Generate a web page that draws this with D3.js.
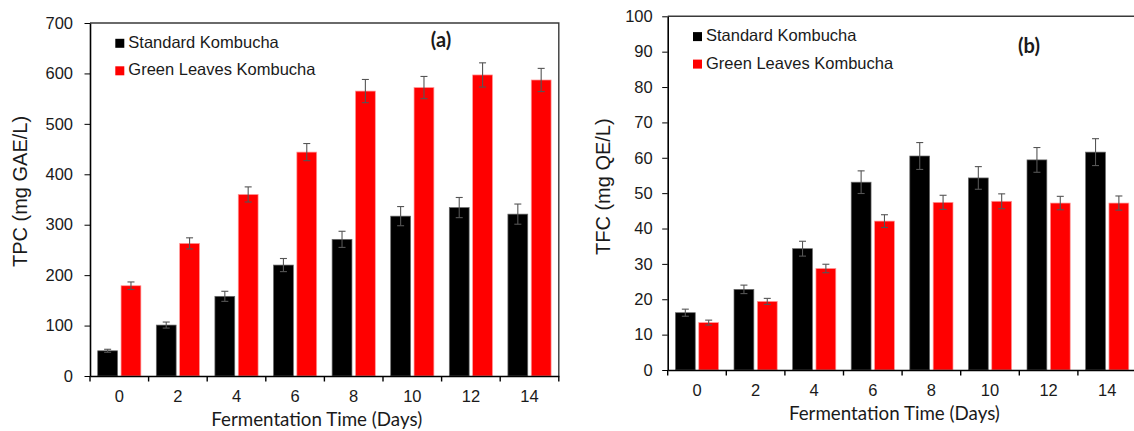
<!DOCTYPE html>
<html>
<head>
<meta charset="utf-8">
<script src="https://cdn.jsdelivr.net/npm/d3@7"></script>
<style>
  body { margin: 0; background: #fff; }
  svg { display: block; }
  .tick text { font-family: "Liberation Sans", Arial, sans-serif; fill: #1a1a1a; }
</style>
</head>
<body>
<div id="chart"></div>
<script>
// categories and series
const days = ["0", "2", "4", "6", "8", "10", "12", "14"];
const seriesNames = ["Standard Kombucha", "Green Leaves Kombucha"];
const seriesColors = ["#000000", "#ff0000"];

// panel (a) - total phenolic content
const tpcStandard = [50, 101, 158, 220, 271, 317, 334, 321];
const tpcStandardErr = [3, 6, 10, 13, 16, 19, 20, 20];
const tpcGreen = [179, 263, 360, 444, 565, 572, 597, 587];
const tpcGreenErr = [7.5, 11, 15, 17, 23, 22, 24, 23];
const tpcTicks = [0, 100, 200, 300, 400, 500, 600, 700];

// panel (b) - total flavonoid content
const tfcStandard = [16.2, 22.8, 34.3, 53.1, 60.5, 54.3, 59.4, 61.6];
const tfcStandardErr = [1.0, 1.2, 2.1, 3.2, 3.8, 3.2, 3.5, 3.8];
const tfcGreen = [13.4, 19.4, 28.7, 42.1, 47.4, 47.7, 47.2, 47.2];
const tfcGreenErr = [0.7, 0.85, 1.2, 1.8, 2.0, 2.1, 1.9, 2.0];
const tfcTicks = [0, 10, 20, 30, 40, 50, 60, 70, 80, 90, 100];

const width = 1134, height = 431;

const svg = d3.select("#chart").append("svg")
    .attr("width", width)
    .attr("height", height);

svg.append("rect").attr("width", width).attr("height", height).attr("fill", "#fff");

function drawPanel(cfg) {
    const g = svg.append("g");
    const band = 58.6;
    const x = d3.scaleBand().domain(days)
        .range([cfg.x0, cfg.x0 + band * days.length])
        .paddingInner(0).paddingOuter(0);
    const xs = d3.scaleBand().domain(seriesNames)
        .range([0, x.bandwidth()])
        .paddingInner(0.15).paddingOuter(0.33);
    const y = d3.scaleLinear().domain([0, cfg.yMax]).range([cfg.y0, cfg.yTop]);
    const xEnd = cfg.x0 + band * days.length;

    const rows = [];
    days.forEach((d, i) => {
        cfg.values.forEach((vals, s) => {
            rows.push({ day: d, s: s, v: vals[i], e: cfg.errors[s][i] });
        });
    });

    // bars
    g.selectAll("rect.bar").data(rows).join("rect")
        .attr("class", "bar")
        .attr("x", d => x(d.day) + xs(seriesNames[d.s]))
        .attr("y", d => y(d.v))
        .attr("width", xs.bandwidth())
        .attr("height", d => y(0) - y(d.v))
        .attr("fill", d => seriesColors[d.s])
        .attr("stroke", d => d.s === 0 ? "#6a6a6a" : "#ff9a9a")
        .attr("stroke-width", 0.7);

    // error bars
    const eb = g.selectAll("g.err").data(rows).join("g")
        .attr("class", "err")
        .attr("stroke", "#555")
        .attr("stroke-width", 1.1);
    const cx = d => x(d.day) + xs(seriesNames[d.s]) + xs.bandwidth() / 2;
    eb.append("line")
        .attr("x1", cx).attr("x2", cx)
        .attr("y1", d => y(d.v + d.e)).attr("y2", d => y(d.v - d.e));
    eb.append("line")
        .attr("x1", d => cx(d) - 3.5).attr("x2", d => cx(d) + 3.5)
        .attr("y1", d => y(d.v + d.e)).attr("y2", d => y(d.v + d.e));
    eb.append("line")
        .attr("x1", d => cx(d) - 3.5).attr("x2", d => cx(d) + 3.5)
        .attr("y1", d => y(d.v - d.e)).attr("y2", d => y(d.v - d.e));

    // frame (top and right)
    g.append("path")
        .attr("d", `M${cfg.x0},${cfg.yTop}H${xEnd}V${cfg.y0}`)
        .attr("fill", "none")
        .attr("stroke", "#3a3a3a")
        .attr("stroke-width", 1.4);

    // y axis
    const yAxis = g.append("g")
        .attr("transform", `translate(${cfg.x0},0)`)
        .call(d3.axisLeft(y).tickValues(cfg.ticks).tickSize(5.5).tickPadding(cfg.tickPad).tickSizeOuter(0));
    yAxis.selectAll("text").style("font-size", "16.5px");

    // x axis: labels centered in each band, ticks on band boundaries
    const xAxis = g.append("g")
        .attr("transform", `translate(0,${cfg.y0})`)
        .call(d3.axisBottom(x).tickSize(0).tickPadding(14));
    xAxis.selectAll("text").style("font-size", "16.5px");
    const bounds = days.map(d => x(d)).concat([xEnd]);
    xAxis.selectAll("line.bound").data(bounds).join("line")
        .attr("class", "bound")
        .attr("x1", d => d).attr("x2", d => d)
        .attr("y1", 0).attr("y2", 5.5)
        .attr("stroke", "#000").attr("stroke-width", 1.4);

    g.selectAll(".domain").attr("stroke", "#000").attr("stroke-width", 1.6);

    // axis titles
    const xt = g.append("text")
        .attr("x", cfg.x0 + 226.7)
        .attr("y", cfg.y0 + 50)
        .attr("text-anchor", "middle")
        .style("font-family", "Lato, 'Open Sans', sans-serif")
        .style("font-size", "20px")
        .style("fill", "#1a1a1a")
        .text("Fermentation Time (Days)");
    const w = xt.node().getComputedTextLength();
    xt.style("font-size", (20 * 211 / w).toFixed(2) + "px");

    g.append("text")
        .attr("transform", `translate(${cfg.yTitleX},${cfg.yTitleY}) rotate(-90)`)
        .attr("text-anchor", "middle")
        .style("font-family", "'Liberation Sans', Arial, sans-serif")
        .style("font-size", "20px")
        .style("fill", "#1a1a1a")
        .text(cfg.yTitle);

    // legend
    const lg = g.selectAll("g.legend").data(seriesNames).join("g")
        .attr("class", "legend")
        .attr("transform", (d, i) => `translate(${cfg.x0 + 25.3},${cfg.yTop + 15.8 + i * 27.5})`);
    lg.append("rect")
        .attr("width", 9).attr("height", 9)
        .attr("fill", (d, i) => seriesColors[i]);
    lg.append("text")
        .attr("x", 13).attr("y", 9)
        .style("font-family", "'Liberation Sans', Arial, sans-serif")
        .style("font-size", "16.5px")
        .style("fill", "#1a1a1a")
        .text(d => d);

    // panel letter
    g.append("text")
        .attr("x", cfg.tagX).attr("y", cfg.tagY)
        .attr("text-anchor", "middle")
        .style("font-family", "Lato, 'Open Sans', sans-serif")
        .style("font-weight", "bold")
        .style("font-size", "20px")
        .style("fill", "#1a1a1a")
        .text(cfg.tag);
}

drawPanel({
    x0: 90, y0: 376, yTop: 23, yMax: 700,
    values: [tpcStandard, tpcGreen],
    errors: [tpcStandardErr, tpcGreenErr],
    ticks: tpcTicks, tickPad: 11.5,
    yTitle: "TPC (mg GAE/L)", yTitleX: 26.5, yTitleY: 191.5,
    tag: "(a)", tagX: 441, tagY: 46.5
});

drawPanel({
    x0: 667.7, y0: 370, yTop: 16.3, yMax: 100,
    values: [tfcStandard, tfcGreen],
    errors: [tfcStandardErr, tfcGreenErr],
    ticks: tfcTicks, tickPad: 9.5,
    yTitle: "TFC (mg QE/L)", yTitleX: 610, yTitleY: 186.7,
    tag: "(b)", tagX: 1029, tagY: 52.5
});
</script>
</body>
</html>
